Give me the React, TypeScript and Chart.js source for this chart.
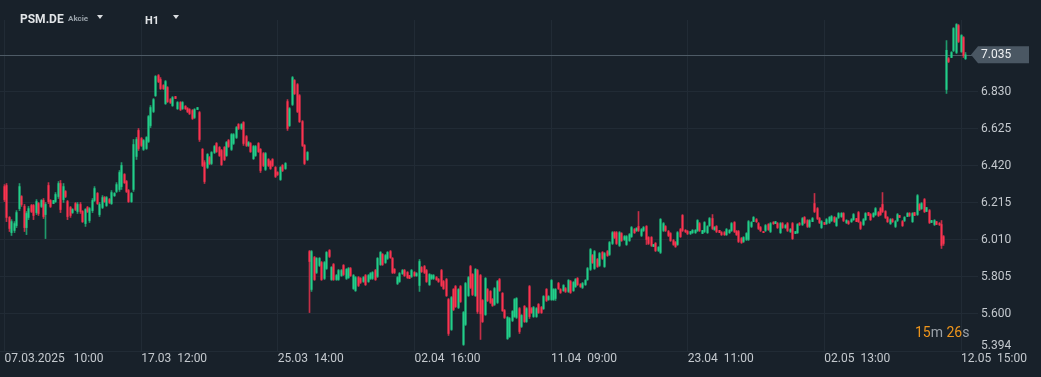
import React, { useEffect, useRef } from "react";
import { Chart, registerables } from "chart.js";
Chart.register(...registerables);

// ---- header / meta ----
const symbolName = "PSM.DE";
const assetType = "Akcie";
const timeframe = "H1";
const countdownParts = ["15", "m", " 26", "s"];

// ---- axis ticks ----
const tickIndices = [0, 56, 112, 168, 224, 280, 336, 392];
const tickLabels = [
  "07.03.2025   10:00",
  "17.03  12:00",
  "25.03  14:00",
  "02.04  16:00",
  "11.04  09:00",
  "23.04  11:00",
  "02.05  13:00",
  "12.05  15:00",
];
const priceTicks = [5.394, 5.6, 5.805, 6.01, 6.215, 6.42, 6.625, 6.83];

// ---- OHLC series (H1 candles) ----
const opens = [
  6.305, 6.311, 6.134, 6.050, 6.062, 6.089, 6.183, 6.250, 6.195, 6.078,
  6.134, 6.200, 6.200, 6.161, 6.211, 6.195, 6.228, 6.150, 6.311, 6.228,
  6.211, 6.222, 6.250, 6.322, 6.233, 6.278, 6.222, 6.189, 6.161, 6.211,
  6.167, 6.206, 6.167, 6.100, 6.189, 6.117, 6.172, 6.228, 6.267, 6.150,
  6.189, 6.244, 6.200, 6.233, 6.211, 6.255, 6.278, 6.289, 6.305, 6.372,
  6.333, 6.283, 6.222, 6.289, 6.472, 6.616, 6.571, 6.511, 6.516, 6.555,
  6.643, 6.721, 6.809, 6.920, 6.898, 6.865, 6.765, 6.854, 6.787, 6.754,
  6.804, 6.737, 6.771, 6.737, 6.749, 6.737, 6.732, 6.726, 6.688, 6.732,
  6.715, 6.511, 6.438, 6.411, 6.466, 6.433, 6.494, 6.544, 6.522, 6.505,
  6.522, 6.477, 6.560, 6.511, 6.544, 6.577, 6.649, 6.627, 6.660, 6.582,
  6.533, 6.544, 6.460, 6.477, 6.544, 6.511, 6.488, 6.400, 6.455, 6.444,
  6.455, 6.411, 6.383, 6.344, 6.422, 6.405, 6.776, 6.643, 6.760, 6.893,
  6.870, 6.809, 6.665, 6.533, 6.455, 5.945, 5.735, 5.912, 5.829, 5.868,
  5.884, 5.796, 5.851, 5.951, 5.790, 5.873, 5.790, 5.790, 5.812, 5.868,
  5.796, 5.801, 5.851, 5.740, 5.729, 5.801, 5.796, 5.779, 5.812, 5.779,
  5.796, 5.796, 5.840, 5.807, 5.873, 5.929, 5.884, 5.907, 5.945, 5.907,
  5.846, 5.768, 5.779, 5.823, 5.840, 5.829, 5.812, 5.807, 5.829, 5.812,
  5.757, 5.857, 5.862, 5.840, 5.762, 5.796, 5.796, 5.801, 5.790, 5.840,
  5.779, 5.790, 5.679, 5.513, 5.735, 5.751, 5.635, 5.751, 5.430, 5.541,
  5.701, 5.862, 5.818, 5.701, 5.840, 5.812, 5.674, 5.596, 5.735, 5.724,
  5.679, 5.652, 5.663, 5.790, 5.713, 5.618, 5.463, 5.474, 5.563, 5.585,
  5.580, 5.629, 5.530, 5.641, 5.557, 5.751, 5.629, 5.585, 5.585, 5.652,
  5.635, 5.629, 5.735, 5.679, 5.679, 5.679, 5.685, 5.768, 5.735, 5.729,
  5.740, 5.724, 5.779, 5.729, 5.751, 5.796, 5.762, 5.746, 5.762, 5.790,
  5.846, 5.923, 5.851, 5.901, 5.868, 5.940, 5.862, 5.945, 5.929, 5.990,
  6.050, 6.050, 5.979, 6.045, 6.012, 5.984, 6.006, 6.028, 6.067, 6.062,
  6.084, 6.034, 6.062, 6.084, 6.023, 6.023, 5.973, 5.990, 5.951, 5.940,
  6.062, 6.084, 6.056, 6.045, 6.006, 5.995, 5.984, 6.067, 6.145, 6.062,
  6.056, 6.045, 6.050, 6.050, 6.062, 6.100, 6.045, 6.056, 6.050, 6.089,
  6.128, 6.067, 6.084, 6.062, 6.050, 6.050, 6.039, 6.050, 6.062, 6.106,
  6.056, 6.056, 6.017, 6.001, 6.012, 6.012, 6.084, 6.111, 6.122, 6.100,
  6.078, 6.056, 6.062, 6.095, 6.056, 6.106, 6.100, 6.100, 6.050, 6.100,
  6.078, 6.100, 6.056, 6.100, 6.045, 6.050, 6.100, 6.095, 6.134, 6.117,
  6.084, 6.111, 6.211, 6.183, 6.128, 6.078, 6.106, 6.100, 6.106, 6.117,
  6.134, 6.089, 6.134, 6.139, 6.156, 6.106, 6.111, 6.111, 6.122, 6.128,
  6.161, 6.106, 6.095, 6.122, 6.161, 6.150, 6.139, 6.150, 6.161, 6.183,
  6.206, 6.167, 6.134, 6.100, 6.122, 6.084, 6.117, 6.145, 6.111, 6.117,
  6.139, 6.156, 6.111, 6.161, 6.150, 6.206, 6.183, 6.233, 6.167, 6.172,
  6.106, 6.095, 6.111, 6.100, 6.095, 6.028, 6.843, 7.014, 7.020, 7.059,
  7.048, 7.197, 7.053, 7.131, 7.014,
];
const highs = [
  6.316, 6.322, 6.139, 6.122, 6.111, 6.172, 6.322, 6.255, 6.206, 6.167,
  6.195, 6.206, 6.206, 6.233, 6.217, 6.233, 6.239, 6.217, 6.327, 6.233,
  6.228, 6.272, 6.333, 6.339, 6.322, 6.283, 6.228, 6.195, 6.183, 6.217,
  6.217, 6.217, 6.172, 6.183, 6.195, 6.189, 6.239, 6.305, 6.272, 6.217,
  6.255, 6.250, 6.250, 6.239, 6.283, 6.272, 6.327, 6.394, 6.438, 6.377,
  6.339, 6.289, 6.272, 6.566, 6.577, 6.627, 6.577, 6.566, 6.582, 6.699,
  6.754, 6.793, 6.920, 6.926, 6.909, 6.870, 6.893, 6.859, 6.793, 6.804,
  6.804, 6.776, 6.776, 6.776, 6.754, 6.743, 6.737, 6.732, 6.737, 6.743,
  6.721, 6.516, 6.449, 6.488, 6.472, 6.499, 6.533, 6.549, 6.527, 6.511,
  6.527, 6.555, 6.566, 6.599, 6.599, 6.638, 6.654, 6.654, 6.665, 6.588,
  6.555, 6.549, 6.533, 6.533, 6.549, 6.516, 6.494, 6.494, 6.460, 6.449,
  6.460, 6.416, 6.388, 6.416, 6.427, 6.438, 6.787, 6.743, 6.915, 6.898,
  6.876, 6.815, 6.671, 6.538, 6.499, 5.951, 5.951, 5.918, 5.912, 5.912,
  5.890, 5.890, 5.945, 5.956, 5.862, 5.879, 5.818, 5.846, 5.846, 5.873,
  5.851, 5.857, 5.857, 5.818, 5.807, 5.807, 5.801, 5.807, 5.818, 5.818,
  5.829, 5.834, 5.846, 5.912, 5.945, 5.934, 5.929, 5.945, 5.951, 5.912,
  5.851, 5.807, 5.829, 5.846, 5.846, 5.834, 5.812, 5.846, 5.834, 5.829,
  5.901, 5.862, 5.868, 5.846, 5.823, 5.818, 5.818, 5.807, 5.796, 5.846,
  5.785, 5.796, 5.685, 5.696, 5.740, 5.757, 5.740, 5.757, 5.613, 5.774,
  5.807, 5.868, 5.823, 5.851, 5.846, 5.818, 5.679, 5.801, 5.740, 5.729,
  5.685, 5.746, 5.785, 5.796, 5.718, 5.624, 5.585, 5.580, 5.618, 5.685,
  5.690, 5.635, 5.596, 5.646, 5.635, 5.757, 5.635, 5.641, 5.635, 5.657,
  5.641, 5.701, 5.740, 5.701, 5.790, 5.740, 5.740, 5.774, 5.740, 5.762,
  5.746, 5.790, 5.785, 5.779, 5.796, 5.801, 5.768, 5.774, 5.790, 5.857,
  5.962, 5.929, 5.951, 5.907, 5.940, 5.945, 5.940, 5.951, 6.001, 6.056,
  6.056, 6.056, 6.056, 6.050, 6.034, 6.034, 6.045, 6.084, 6.073, 6.078,
  6.167, 6.073, 6.084, 6.089, 6.028, 6.028, 5.984, 5.995, 5.973, 6.128,
  6.106, 6.089, 6.062, 6.050, 6.012, 6.001, 6.056, 6.073, 6.150, 6.067,
  6.062, 6.056, 6.067, 6.067, 6.122, 6.106, 6.062, 6.111, 6.089, 6.134,
  6.150, 6.084, 6.089, 6.062, 6.056, 6.056, 6.073, 6.067, 6.106, 6.111,
  6.062, 6.062, 6.023, 6.028, 6.050, 6.117, 6.111, 6.139, 6.128, 6.106,
  6.084, 6.056, 6.095, 6.100, 6.106, 6.111, 6.111, 6.106, 6.106, 6.106,
  6.095, 6.106, 6.073, 6.106, 6.056, 6.100, 6.106, 6.134, 6.139, 6.122,
  6.122, 6.134, 6.267, 6.189, 6.134, 6.117, 6.106, 6.128, 6.139, 6.145,
  6.139, 6.134, 6.161, 6.161, 6.161, 6.122, 6.117, 6.128, 6.156, 6.128,
  6.167, 6.111, 6.128, 6.161, 6.161, 6.156, 6.161, 6.189, 6.167, 6.189,
  6.272, 6.172, 6.139, 6.128, 6.128, 6.117, 6.156, 6.145, 6.117, 6.139,
  6.161, 6.161, 6.161, 6.161, 6.261, 6.211, 6.217, 6.239, 6.189, 6.178,
  6.117, 6.122, 6.111, 6.106, 6.117, 6.034, 7.114, 7.020, 7.053, 7.186,
  7.208, 7.203, 7.147, 7.136, 7.048,
];
const lows = [
  6.222, 6.111, 6.056, 6.034, 6.050, 6.078, 6.172, 6.195, 6.056, 6.039,
  6.122, 6.161, 6.122, 6.150, 6.145, 6.189, 6.128, 6.017, 6.211, 6.189,
  6.211, 6.217, 6.239, 6.161, 6.217, 6.244, 6.122, 6.134, 6.156, 6.172,
  6.156, 6.156, 6.106, 6.084, 6.161, 6.106, 6.161, 6.222, 6.206, 6.139,
  6.183, 6.217, 6.195, 6.211, 6.206, 6.250, 6.272, 6.278, 6.289, 6.322,
  6.272, 6.217, 6.217, 6.278, 6.455, 6.505, 6.527, 6.505, 6.511, 6.549,
  6.632, 6.715, 6.804, 6.881, 6.843, 6.843, 6.760, 6.771, 6.765, 6.749,
  6.793, 6.732, 6.726, 6.732, 6.732, 6.715, 6.704, 6.677, 6.682, 6.732,
  6.555, 6.416, 6.322, 6.405, 6.427, 6.427, 6.488, 6.494, 6.472, 6.422,
  6.449, 6.472, 6.522, 6.505, 6.538, 6.571, 6.621, 6.621, 6.533, 6.527,
  6.527, 6.494, 6.455, 6.472, 6.494, 6.383, 6.416, 6.394, 6.416, 6.400,
  6.416, 6.355, 6.366, 6.339, 6.388, 6.400, 6.616, 6.638, 6.754, 6.815,
  6.715, 6.660, 6.527, 6.427, 6.449, 5.607, 5.724, 5.785, 5.823, 5.862,
  5.785, 5.790, 5.846, 5.912, 5.785, 5.785, 5.785, 5.785, 5.807, 5.812,
  5.790, 5.796, 5.807, 5.735, 5.724, 5.751, 5.768, 5.774, 5.757, 5.774,
  5.790, 5.790, 5.785, 5.801, 5.868, 5.868, 5.879, 5.901, 5.907, 5.823,
  5.823, 5.762, 5.774, 5.818, 5.807, 5.796, 5.796, 5.801, 5.807, 5.807,
  5.724, 5.829, 5.823, 5.774, 5.757, 5.790, 5.790, 5.785, 5.774, 5.751,
  5.735, 5.696, 5.480, 5.508, 5.618, 5.635, 5.629, 5.663, 5.425, 5.535,
  5.696, 5.740, 5.701, 5.696, 5.602, 5.458, 5.552, 5.591, 5.668, 5.657,
  5.641, 5.646, 5.657, 5.724, 5.613, 5.574, 5.458, 5.469, 5.557, 5.580,
  5.574, 5.491, 5.524, 5.552, 5.552, 5.574, 5.602, 5.580, 5.580, 5.602,
  5.602, 5.624, 5.668, 5.674, 5.674, 5.674, 5.674, 5.735, 5.713, 5.724,
  5.718, 5.718, 5.713, 5.724, 5.746, 5.757, 5.746, 5.740, 5.757, 5.785,
  5.840, 5.879, 5.846, 5.857, 5.862, 5.901, 5.857, 5.918, 5.923, 5.984,
  6.017, 5.984, 5.973, 6.001, 6.006, 5.979, 6.001, 6.023, 6.045, 6.056,
  6.056, 6.028, 6.056, 5.984, 5.984, 5.973, 5.973, 5.945, 5.945, 5.934,
  6.056, 6.056, 6.028, 6.001, 5.979, 5.968, 5.979, 6.023, 6.056, 6.050,
  6.039, 6.039, 6.045, 6.045, 6.056, 6.056, 6.045, 6.050, 6.045, 6.084,
  6.067, 6.062, 6.050, 6.050, 6.034, 6.034, 6.034, 6.045, 6.056, 6.050,
  6.034, 5.995, 5.990, 5.995, 6.006, 6.006, 6.078, 6.111, 6.106, 6.067,
  6.056, 6.050, 6.056, 6.062, 6.050, 6.095, 6.100, 6.073, 6.045, 6.073,
  6.073, 6.056, 6.050, 6.012, 6.045, 6.045, 6.089, 6.089, 6.100, 6.078,
  6.078, 6.111, 6.161, 6.122, 6.100, 6.073, 6.095, 6.095, 6.100, 6.111,
  6.106, 6.084, 6.128, 6.134, 6.111, 6.100, 6.095, 6.106, 6.117, 6.111,
  6.106, 6.067, 6.089, 6.117, 6.145, 6.117, 6.134, 6.145, 6.139, 6.145,
  6.161, 6.128, 6.106, 6.095, 6.106, 6.078, 6.111, 6.134, 6.084, 6.111,
  6.139, 6.139, 6.106, 6.145, 6.145, 6.172, 6.178, 6.161, 6.167, 6.100,
  6.106, 6.089, 6.095, 6.089, 5.962, 5.979, 6.821, 6.992, 7.020, 7.053,
  7.042, 7.103, 7.048, 7.020, 7.009,
];
const closes = [
  6.233, 6.134, 6.073, 6.111, 6.100, 6.161, 6.305, 6.206, 6.078, 6.156,
  6.183, 6.167, 6.145, 6.222, 6.156, 6.228, 6.139, 6.206, 6.222, 6.195,
  6.228, 6.261, 6.322, 6.178, 6.305, 6.250, 6.139, 6.145, 6.178, 6.178,
  6.206, 6.167, 6.111, 6.178, 6.167, 6.183, 6.228, 6.294, 6.211, 6.206,
  6.244, 6.222, 6.244, 6.217, 6.272, 6.267, 6.316, 6.383, 6.422, 6.327,
  6.278, 6.222, 6.267, 6.538, 6.566, 6.516, 6.533, 6.560, 6.577, 6.693,
  6.743, 6.787, 6.915, 6.887, 6.848, 6.848, 6.887, 6.776, 6.771, 6.798,
  6.793, 6.771, 6.732, 6.771, 6.737, 6.721, 6.710, 6.682, 6.732, 6.743,
  6.566, 6.422, 6.333, 6.483, 6.433, 6.494, 6.527, 6.499, 6.477, 6.427,
  6.455, 6.549, 6.527, 6.593, 6.593, 6.632, 6.627, 6.649, 6.544, 6.533,
  6.549, 6.499, 6.527, 6.527, 6.499, 6.394, 6.422, 6.488, 6.422, 6.405,
  6.422, 6.361, 6.372, 6.411, 6.394, 6.433, 6.627, 6.737, 6.909, 6.820,
  6.721, 6.665, 6.533, 6.433, 6.494, 5.890, 5.945, 5.790, 5.907, 5.907,
  5.790, 5.884, 5.940, 5.918, 5.857, 5.790, 5.812, 5.840, 5.840, 5.818,
  5.846, 5.851, 5.812, 5.812, 5.801, 5.757, 5.774, 5.801, 5.762, 5.812,
  5.823, 5.829, 5.790, 5.907, 5.940, 5.873, 5.923, 5.940, 5.912, 5.829,
  5.829, 5.801, 5.823, 5.840, 5.812, 5.801, 5.796, 5.840, 5.812, 5.823,
  5.890, 5.834, 5.829, 5.779, 5.818, 5.812, 5.812, 5.790, 5.779, 5.757,
  5.740, 5.701, 5.491, 5.690, 5.624, 5.640, 5.735, 5.668, 5.607, 5.768,
  5.801, 5.746, 5.707, 5.846, 5.613, 5.600, 5.557, 5.796, 5.674, 5.663,
  5.646, 5.740, 5.779, 5.729, 5.618, 5.580, 5.580, 5.574, 5.613, 5.679,
  5.685, 5.502, 5.591, 5.557, 5.629, 5.585, 5.607, 5.635, 5.629, 5.607,
  5.607, 5.696, 5.674, 5.696, 5.785, 5.735, 5.735, 5.740, 5.718, 5.757,
  5.724, 5.785, 5.718, 5.774, 5.790, 5.762, 5.751, 5.768, 5.785, 5.851,
  5.956, 5.884, 5.945, 5.862, 5.934, 5.907, 5.934, 5.923, 5.995, 6.050,
  6.023, 5.990, 6.050, 6.006, 6.028, 6.028, 6.039, 6.078, 6.050, 6.073,
  6.062, 6.067, 6.078, 6.012, 5.990, 5.979, 5.984, 5.951, 5.968, 6.123,
  6.100, 6.062, 6.034, 6.006, 5.984, 5.973, 6.050, 6.028, 6.062, 6.056,
  6.045, 6.056, 6.062, 6.062, 6.117, 6.062, 6.062, 6.106, 6.084, 6.128,
  6.073, 6.078, 6.056, 6.050, 6.039, 6.039, 6.067, 6.062, 6.100, 6.056,
  6.039, 6.001, 5.995, 6.023, 6.045, 6.111, 6.106, 6.134, 6.111, 6.073,
  6.062, 6.050, 6.089, 6.067, 6.100, 6.100, 6.111, 6.078, 6.100, 6.078,
  6.089, 6.062, 6.067, 6.017, 6.056, 6.095, 6.095, 6.128, 6.106, 6.084,
  6.117, 6.128, 6.167, 6.128, 6.106, 6.111, 6.095, 6.122, 6.134, 6.139,
  6.111, 6.128, 6.156, 6.156, 6.117, 6.117, 6.100, 6.122, 6.150, 6.111,
  6.111, 6.073, 6.122, 6.156, 6.145, 6.122, 6.156, 6.183, 6.145, 6.150,
  6.167, 6.134, 6.111, 6.122, 6.111, 6.111, 6.150, 6.134, 6.089, 6.134,
  6.156, 6.145, 6.156, 6.145, 6.255, 6.178, 6.211, 6.167, 6.189, 6.106,
  6.117, 6.117, 6.095, 6.095, 5.979, 5.990, 7.060, 6.998, 7.048, 7.181,
  7.203, 7.109, 7.142, 7.031, 7.035,
];

// ---- styling constants ----
const BG = "#18212a";
const GRID = "#212b35";
const TXT = "#c4c9ce";
const UP = "#22cf8a";
const DOWN = "#fb3450";
const UP_WICK = "#1f9a6c";
const DOWN_WICK = "#c42f47";
const X_MIN = -1.844;
const X_MAX = 398.967;
const Y_MIN = 5.394;
const Y_MAX = 7.228;

const overlay = {
  id: "overlay",
  beforeDatasetsDraw(chart: any) {
    const { ctx, chartArea, scales } = chart;
    // snap candle centres to pixel centres so 1px candles stay crisp
    chart.data.datasets.forEach((_: any, di: number) => {
      chart.getDatasetMeta(di).data.forEach((el: any) => {
        el.x = Math.floor(el.x) + 0.5;
      });
    });
    const last = closes[closes.length - 1];
    const y = Math.round(scales.y.getPixelForValue(last)) + 0.5;
    ctx.save();
    ctx.strokeStyle = "#4e5b66";
    ctx.lineWidth = 1;
    ctx.beginPath();
    ctx.moveTo(chartArea.left, y);
    ctx.lineTo(chartArea.right - 6, y);
    ctx.stroke();
    ctx.restore();
  },
  afterDraw(chart: any) {
    const { ctx, chartArea, scales } = chart;
    const last = closes[closes.length - 1];
    const y = scales.y.getPixelForValue(last);
    const r = chartArea.right;
    ctx.save();
    ctx.fillStyle = "#4a5763";
    ctx.beginPath();
    ctx.moveTo(r - 7, y);
    ctx.lineTo(r, y - 8.5);
    ctx.lineTo(r + 51, y - 8.5);
    ctx.lineTo(r + 51, y + 8.5);
    ctx.lineTo(r, y + 8.5);
    ctx.closePath();
    ctx.fill();
    ctx.font = "12px Roboto";
    ctx.textBaseline = "middle";
    ctx.textAlign = "left";
    ctx.fillStyle = "#eef0f2";
    ctx.fillText(last.toFixed(3), r + 3, y + 0.5);
    // axis minimum label, lifted inside the plot
    ctx.fillStyle = TXT;
    ctx.fillText(Y_MIN.toFixed(3), r + 3, chartArea.bottom - 5);
    ctx.restore();
  },
};

export default function App() {
  const ref = useRef<HTMLCanvasElement>(null);
  useEffect(() => {
    document.body.style.margin = "0";
    document.body.style.background = BG;
    const idx = closes.map((_, i) => i);
    const up = closes.map((c, i) => c >= opens[i]);
    const chart = new Chart(ref.current as HTMLCanvasElement, {
      type: "bar",
      data: {
        datasets: [
          {
            label: "body",
            data: idx.map((i) => ({ x: i, y: [opens[i], closes[i]] })) as any,
            backgroundColor: up.map((u) => (u ? UP : DOWN)),
            barThickness: 1.3,
            minBarLength: 1,
            grouped: false,
            order: 0,
          } as any,
          {
            label: "wick",
            data: idx.map((i) => ({ x: i, y: [lows[i], highs[i]] })) as any,
            backgroundColor: up.map((u) => (u ? UP_WICK : DOWN_WICK)),
            barThickness: 1,
            grouped: false,
            order: 1,
          } as any,
        ],
      },
      options: {
        responsive: false,
        animation: false,
        events: [],
        layout: { padding: { top: 20, left: 0, right: 0, bottom: 0 } },
        plugins: { legend: { display: false }, tooltip: { enabled: false } },
        scales: {
          x: {
            type: "linear",
            min: X_MIN,
            max: X_MAX,
            offset: false,
            afterBuildTicks: (s: any) => {
              s.ticks = tickIndices.map((v) => ({ value: v }));
            },
            afterFit: (s: any) => {
              s.height = 26;
            },
            grid: { color: GRID, drawTicks: false, offset: false },
            border: { display: false },
            ticks: {
              align: "start",
              color: TXT,
              font: { family: "Roboto", size: 12 },
              padding: 1,
              maxRotation: 0,
              autoSkip: false,
              callback: (v: any) => {
                const k = tickIndices.indexOf(Number(v));
                return k >= 0 ? tickLabels[k] : "";
              },
            },
          } as any,
          y: {
            position: "right",
            min: Y_MIN,
            max: Y_MAX,
            afterBuildTicks: (s: any) => {
              s.ticks = priceTicks.map((v) => ({ value: v }));
            },
            afterFit: (s: any) => {
              s.width = 63;
            },
            grid: { color: GRID, drawTicks: false },
            border: { display: false },
            ticks: {
              color: TXT,
              font: { family: "Roboto", size: 12 },
              padding: 3,
              crossAlign: "near",
              callback: (v: any) => (Number(v) === Y_MIN ? "" : Number(v).toFixed(3)),
            },
          } as any,
        },
      },
      plugins: [overlay],
    });
    return () => chart.destroy();
  }, []);

  const tri = (left: number) => (
    <div
      style={{
        position: "absolute",
        left,
        top: 15,
        width: 0,
        height: 0,
        borderLeft: "3.5px solid transparent",
        borderRight: "3.5px solid transparent",
        borderTop: "4px solid #d9dde0",
      }}
    />
  );

  return (
    <div
      style={{
        position: "fixed",
        left: 0,
        top: 0,
        width: 1041,
        height: 377,
        background: BG,
        overflow: "hidden",
        fontFamily: "Roboto, sans-serif",
      }}
    >
      <canvas ref={ref} width={1041} height={377} style={{ position: "absolute", left: 0, top: 0 }} />
      <div style={{ position: "absolute", left: 20, top: 13, font: "bold 12px/12px Roboto", color: "#e1e4e7" }}>
        {symbolName}
      </div>
      <div style={{ position: "absolute", left: 68, top: 15, font: "bold 8px/8px Roboto", color: "#97a0a8" }}>
        {assetType}
      </div>
      {tri(97)}
      <div style={{ position: "absolute", left: 145, top: 15, font: "bold 11px/11px Roboto", color: "#e1e4e7" }}>
        {timeframe}
      </div>
      {tri(173)}
      <div style={{ position: "absolute", left: 915, top: 325, font: "14px/14px Roboto", whiteSpace: "pre" }}>
        <span style={{ color: "#ee951c" }}>{countdownParts[0]}</span>
        <span style={{ color: "#9ba2a9" }}>{countdownParts[1]}</span>
        <span style={{ color: "#ee951c" }}>{countdownParts[2]}</span>
        <span style={{ color: "#9ba2a9" }}>{countdownParts[3]}</span>
      </div>
    </div>
  );
}
